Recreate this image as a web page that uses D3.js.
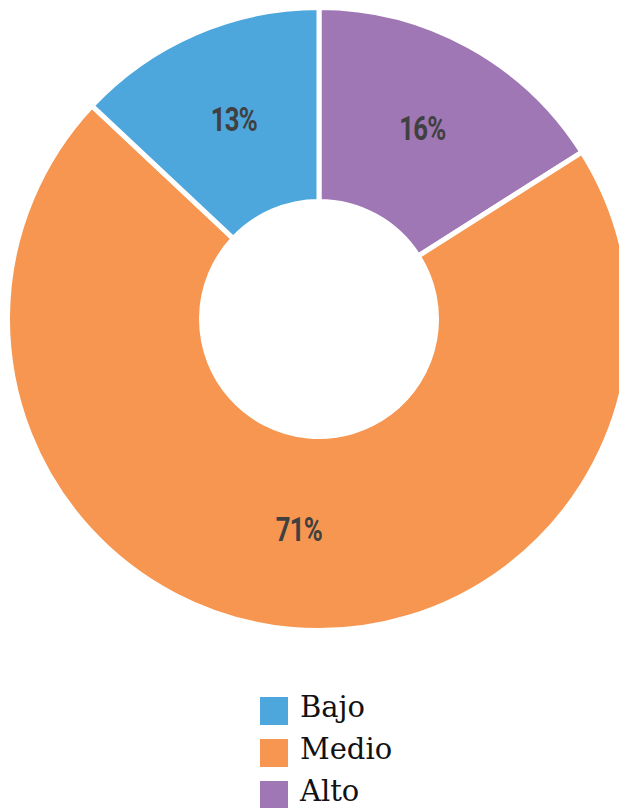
<!DOCTYPE html>
<html><head><meta charset="utf-8">
<script src="https://cdn.jsdelivr.net/npm/d3@7"></script>
<style>body{margin:0;background:#fff;overflow:hidden}</style>
</head><body>
<svg id="c" width="619" height="808"></svg>
<script>
const categories = ["Alto", "Medio", "Bajo"];
const values = [16, 71, 13];
const labels = ["16%", "71%", "13%"];
const legendOrder = ["Bajo", "Medio", "Alto"];
const colors = {"Bajo": "#4ea7dc", "Medio": "#f69651", "Alto": "#9f77b4"};

const svg = d3.select("#c");
const cx = 319, cy = 319, rOut = 311.5, rIn = 117.5;
const data = categories.map((c, i) => ({cat: c, value: values[i], label: labels[i]}));
const pie = d3.pie().value(d => d.value).sort(null);
const arc = d3.arc().innerRadius(rIn).outerRadius(rOut);
const labelArc = d3.arc().innerRadius(120).outerRadius(309);
const g = svg.append("g").attr("transform", `translate(${cx},${cy})`);
const arcs = pie(data);
g.selectAll("path").data(arcs).join("path")
  .attr("d", arc).attr("fill", d => colors[d.data.cat])
  .attr("stroke", "#fff").attr("stroke-width", 5).attr("stroke-linejoin", "miter");
g.selectAll("text").data(arcs).join("text")
  .attr("transform", d => { const [x, y] = labelArc.centroid(d); return `translate(${x},${y - 3}) scale(0.78,1)`; })
  .attr("text-anchor", "middle").attr("dy", "0.36em")
  .attr("font-family", "Roboto").attr("font-weight", 700).attr("font-size", 33)
  .attr("letter-spacing", -1)
  .attr("fill", "#404040").text(d => d.data.label);

const y = d3.scalePoint().domain(legendOrder).range([711, 795]);
const lg = svg.append("g");
lg.selectAll("rect").data(legendOrder).join("rect")
  .attr("x", 260).attr("y", d => y(d) - 14).attr("width", 28).attr("height", 28)
  .attr("fill", d => colors[d]);
lg.selectAll("text").data(legendOrder).join("text")
  .attr("x", 300).attr("y", d => y(d) + 6)
  .attr("font-family", "DejaVu Serif").attr("font-size", 29).attr("fill", "#111")
  .text(d => d);
</script>
</body></html>
